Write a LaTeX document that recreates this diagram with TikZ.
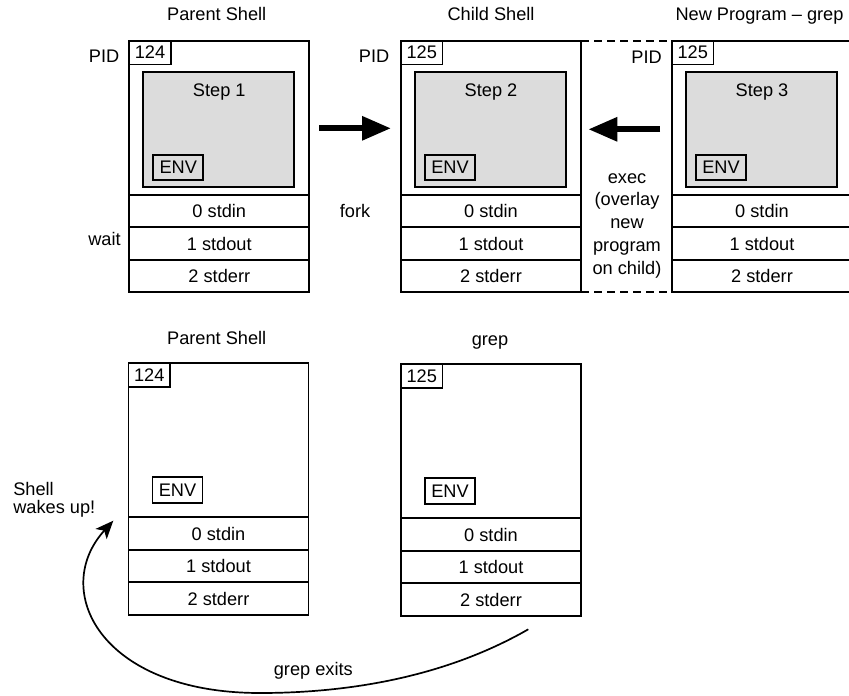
\documentclass[tikz,border=0pt]{standalone}
\usepackage{fontspec}
\setmainfont{Liberation Sans}
\usetikzlibrary{arrows.meta,calc}
\definecolor{panelgray}{RGB}{220,220,220}

\tikzset{
  every node/.style={font=\fontsize{18.2}{22.7}\selectfont, inner sep=0pt, outer sep=0pt},
  frame/.style={draw, line width=1.9pt, minimum width=180pt, minimum height=154pt},
  fdrow/.style={draw, line width=1.9pt, minimum width=180pt, minimum height=32.5pt},
  pidbox/.style={draw, line width=1.6pt, minimum width=41.5pt, minimum height=23.5pt},
  stepbox/.style={draw, fill=panelgray, line width=1.9pt, minimum width=151pt, minimum height=115pt},
  envbox/.style={draw, line width=1.9pt, minimum width=50pt, minimum height=25.5pt},
  bigarrow/.style={line width=6pt, -{Triangle[length=29pt,width=23pt]}},
  linkline/.style={line width=1.9pt, dash pattern=on 8pt off 5pt},
  exitcurve/.style={line width=1.7pt, -{Stealth[length=18pt,width=15pt,inset=4.5pt]}},
}

% A process: frame with PID tag, optional grey step panel, ENV tag and
% the three file descriptor rows underneath.
\newcommand\procbox[5]{%
  \node[frame, anchor=north west] (#1) at (#2,#3) {};
  \node[pidbox, anchor=north west] (#1-pid) at (#1.north west) {#4};
  \if\relax\detokenize{#5}\relax\else
    \node[stepbox, anchor=north west] (#1-core) at ($(#1.north west)+(14,31)$) {};
    \node[anchor=base] (#1-step) at ($(#1.north)+(0,56)$) {#5};
  \fi
  \node[envbox, anchor=north west] (#1-env) at ($(#1.north west)+(24,114)$) {ENV};
  \node[fdrow, anchor=north west] (#1-fd0) at (#1.south west) {0 stdin};
  \node[fdrow, anchor=north west] (#1-fd1) at (#1-fd0.south west) {1 stdout};
  \node[fdrow, anchor=north west] (#1-fd2) at (#1-fd1.south west) {2 stderr};
}

\begin{document}
\begin{tikzpicture}[x=1pt, y=-1pt]
  \fill[white] (0,0) rectangle (849,696);
  \useasboundingbox (0,0) rectangle (849,696);

  % top row: fork and exec
  \node[anchor=base] (title-parent) at (216.7,20.7) {Parent Shell};
  \node[anchor=base] (title-child) at (491,20.7) {Child Shell};
  \node[anchor=base] (title-new) at (759.5,20.7) {New Program – grep};

  \procbox{parent}{129.3}{40.8}{124}{Step 1}
  \procbox{child}{401}{40.8}{125}{Step 2}
  \procbox{newprog}{672}{40.8}{125}{Step 3}

  \node[anchor=base east] (pid-parent) at (119.3,62.3) {PID};
  \node[anchor=base east] (pid-child) at (389.3,62.3) {PID};
  \node[anchor=base east] (pid-new) at (661.7,63) {PID};

  \draw[linkline] (child.north east) -- (newprog.north west);
  \draw[linkline] (child-fd2.south east) -- (newprog-fd2.south west);

  \coordinate (fork-from) at (319,128.3);
  \coordinate (fork-to) at (391,128.3);
  \draw[bigarrow] (fork-from) -- (fork-to);
  \coordinate (exec-from) at (660,129.3);
  \coordinate (exec-to) at (588.3,129.3);
  \draw[bigarrow] (exec-from) -- (exec-to);

  \node[anchor=base] (wait) at (104.5,245) {wait};
  \node[anchor=base] (fork) at (355,217) {fork};
  \node[align=center, anchor=north] (exec) at (627,173.5)
    {exec\\(overlay\\new\\program\\on child)};

  % bottom row: grep finishes, shell resumes
  \node[anchor=base] (title-parent2) at (216.7,344.5) {Parent Shell};
  \node[anchor=base] (title-grep) at (490,345.5) {grep};

  \procbox{parent2}{128.5}{363.3}{124}{}
  \procbox{grep}{401}{364.3}{125}{}

  \node[align=left, anchor=north west, font=\fontsize{18.2}{18}\selectfont]
    (wakeup) at (13.3,482) {Shell\\wakes up!};
  \node[anchor=base] (exits) at (313.3,675) {grep exits};

  \coordinate (exit-pt) at (528.3,629.3);
  \coordinate (wake-pt) at (113.3,520.7);
  \draw[exitcurve] (exit-pt) .. controls (440,680) and (340,693) .. (260,693)
    .. controls (100,693) and (50,590) .. (wake-pt);
\end{tikzpicture}
\end{document}
